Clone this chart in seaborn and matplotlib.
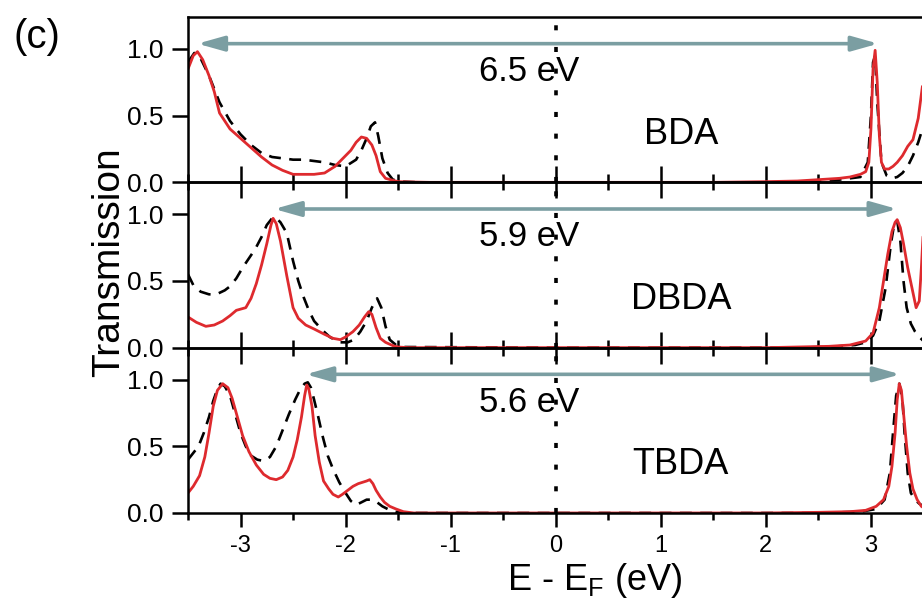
import numpy as np
import pandas as pd
import matplotlib
matplotlib.use("Agg")
import matplotlib.pyplot as plt
from matplotlib.ticker import MultipleLocator, FormatStrFormatter
import seaborn as sns

# ---------------- data ----------------
panel_names = ["BDA", "DBDA", "TBDA"]
gap_labels = ["6.5 eV", "5.9 eV", "5.6 eV"]
gap_left = [-3.41, -2.68, -2.38]
gap_right = [3.07, 3.25, 3.28]

bda_red_E = [-3.5, -3.45, -3.41, -3.36, -3.3, -3.25, -3.2, -3.1, -3.0, -2.9, -2.8, -2.7, -2.6, -2.5,
             -2.4, -2.3, -2.2, -2.1, -2.0, -1.95, -1.9, -1.85, -1.8, -1.75, -1.71, -1.67, -1.62, -1.55,
             -1.5, -1.4, -1.2, -1.0, 0.0, 1.0, 1.5, 2.0, 2.3, 2.5, 2.7, 2.8, 2.9, 2.95, 2.98, 3.0, 3.02,
             3.04, 3.06, 3.08, 3.1, 3.13, 3.17, 3.21, 3.25, 3.3, 3.35, 3.4, 3.45, 3.49]
bda_red_T = [0.85, 0.95, 0.98, 0.92, 0.80, 0.68, 0.52, 0.40, 0.33, 0.26, 0.19, 0.13, 0.09, 0.06,
             0.06, 0.06, 0.07, 0.12, 0.20, 0.24, 0.30, 0.34, 0.33, 0.28, 0.20, 0.08, 0.03, 0.015,
             0.005, 0.003, 0.0, 0.0, 0.0, 0.0, 0.0, 0.005, 0.01, 0.02, 0.03, 0.04, 0.06, 0.08, 0.15, 0.40, 0.85,
             0.99, 0.75, 0.35, 0.15, 0.10, 0.10, 0.12, 0.15, 0.20, 0.27, 0.32, 0.48, 0.72]
bda_blk_E = [-3.5, -3.44, -3.38, -3.3, -3.2, -3.1, -3.0, -2.9, -2.8, -2.7, -2.6, -2.5, -2.4, -2.3,
             -2.2, -2.1, -2.0, -1.9, -1.85, -1.8, -1.76, -1.72, -1.69, -1.65, -1.6, -1.55, -1.45, -1.3,
             0.0, 2.0, 2.4, 2.7, 2.9, 2.97, 3.0, 3.02, 3.04, 3.06, 3.1, 3.15, 3.2, 3.25, 3.3, 3.35, 3.4,
             3.45, 3.49]
bda_blk_T = [0.90, 0.97, 0.93, 0.80, 0.60, 0.46, 0.36, 0.28, 0.22, 0.19, 0.18, 0.17, 0.17, 0.16,
             0.15, 0.13, 0.12, 0.17, 0.24, 0.33, 0.42, 0.45, 0.35, 0.18, 0.07, 0.02, 0.005, 0.0,
             0.0, 0.0, 0.005, 0.02, 0.04, 0.15, 0.50, 0.90, 0.95, 0.60, 0.15, 0.05, 0.03, 0.04, 0.07, 0.12, 0.20,
             0.30, 0.40]

dbda_red_E = [-3.5, -3.42, -3.33, -3.25, -3.17, -3.1, -3.04, -2.95, -2.9, -2.85, -2.8, -2.75, -2.71,
              -2.69, -2.66, -2.62, -2.56, -2.5, -2.45, -2.38, -2.3, -2.2, -2.12, -2.05, -2.0, -1.93,
              -1.87, -1.82, -1.78, -1.75, -1.71, -1.67, -1.62, -1.55, -1.5, -1.4, 0.0, 2.0, 2.3, 2.6,
              2.8, 2.95, 3.02, 3.08, 3.12, 3.16, 3.2, 3.23, 3.25, 3.28, 3.31, 3.35, 3.39, 3.43, 3.46,
              3.48, 3.5]
dbda_red_T = [0.23, 0.19, 0.16, 0.17, 0.20, 0.24, 0.28, 0.30, 0.37, 0.48, 0.62, 0.78, 0.92,
              0.97, 0.93, 0.80, 0.54, 0.30, 0.22, 0.17, 0.14, 0.10, 0.07, 0.06, 0.08, 0.12,
              0.17, 0.23, 0.27, 0.25, 0.15, 0.07, 0.04, 0.015, 0.005, 0.0, 0.0, 0.0, 0.005, 0.01,
              0.02, 0.05, 0.11, 0.30, 0.50, 0.70, 0.87, 0.94, 0.96, 0.90, 0.78, 0.60, 0.45, 0.30, 0.35,
              0.60, 0.90]
dbda_blk_E = [-3.5, -3.45, -3.38, -3.3, -3.23, -3.15, -3.1, -3.04, -2.98, -2.92, -2.86, -2.8, -2.75,
              -2.7, -2.67, -2.62, -2.56, -2.5, -2.45, -2.4, -2.35, -2.3, -2.22, -2.15, -2.06, -1.98,
              -1.92, -1.86, -1.8, -1.75, -1.7, -1.66, -1.62, -1.58, -1.52, -1.45, 0.0, 2.2, 2.6, 2.85,
              2.95, 3.02, 3.08, 3.14, 3.19, 3.22, 3.25, 3.28, 3.31, 3.34, 3.38, 3.42, 3.46, 3.5]
dbda_blk_T = [0.55, 0.47, 0.42, 0.40, 0.40, 0.43, 0.46, 0.52, 0.60, 0.67, 0.74, 0.83, 0.92,
              0.97, 0.98, 0.94, 0.86, 0.65, 0.50, 0.38, 0.28, 0.20, 0.13, 0.08, 0.04, 0.04,
              0.06, 0.12, 0.20, 0.30, 0.37, 0.30, 0.16, 0.06, 0.02, 0.005, 0.0, 0.0, 0.005, 0.02,
              0.04, 0.09, 0.20, 0.45, 0.78, 0.92, 0.95, 0.80, 0.50, 0.30, 0.18, 0.12, 0.08, 0.05]

tbda_red_E = [-3.5, -3.45, -3.39, -3.34, -3.3, -3.26, -3.22, -3.17, -3.12, -3.08, -3.03, -2.98,
              -2.92, -2.85, -2.78, -2.72, -2.66, -2.6, -2.55, -2.5, -2.46, -2.42, -2.39, -2.37,
              -2.35, -2.32, -2.29, -2.25, -2.21, -2.16, -2.12, -2.07, -2.03, -1.98, -1.93, -1.88,
              -1.84, -1.8, -1.77, -1.74, -1.71, -1.67, -1.63, -1.58, -1.52, -1.45, -1.35, 0.0, 2.0,
              2.5, 2.8, 2.95, 3.05, 3.12, 3.17, 3.2, 3.23, 3.25, 3.27, 3.29, 3.31, 3.34, 3.37, 3.4,
              3.44, 3.48, 3.5]
tbda_red_T = [0.15, 0.20, 0.28, 0.42, 0.60, 0.80, 0.92, 0.97, 0.94, 0.86, 0.72, 0.58,
              0.46, 0.36, 0.29, 0.26, 0.25, 0.27, 0.32, 0.42, 0.55, 0.72, 0.88, 0.96,
              0.93, 0.80, 0.58, 0.38, 0.24, 0.18, 0.14, 0.12, 0.14, 0.17, 0.20, 0.22,
              0.23, 0.24, 0.25, 0.22, 0.17, 0.12, 0.08, 0.05, 0.03, 0.01, 0.0, 0.0, 0.0,
              0.005, 0.01, 0.02, 0.05, 0.10, 0.20, 0.35, 0.60, 0.85, 0.97, 0.92, 0.75, 0.50, 0.30, 0.18,
              0.10, 0.05, 0.04]
tbda_blk_E = [-3.5, -3.45, -3.4, -3.35, -3.3, -3.26, -3.22, -3.19, -3.15, -3.1, -3.05, -3.0, -2.95,
              -2.9, -2.84, -2.78, -2.72, -2.66, -2.6, -2.54, -2.48, -2.43, -2.39, -2.36, -2.33, -2.3,
              -2.26, -2.22, -2.17, -2.12, -2.06, -2.0, -1.95, -1.9, -1.85, -1.8, -1.75, -1.7, -1.65,
              -1.6, -1.55, -1.5, -1.4, 0.0, 2.5, 2.9, 3.05, 3.13, 3.18, 3.21, 3.24, 3.27, 3.3, 3.32,
              3.35, 3.38, 3.42, 3.46, 3.5]
tbda_blk_T = [0.40, 0.45, 0.50, 0.60, 0.72, 0.84, 0.93, 0.97, 0.95, 0.88, 0.74, 0.60, 0.50,
              0.43, 0.40, 0.39, 0.42, 0.50, 0.62, 0.74, 0.85, 0.93, 0.97, 0.98, 0.94, 0.85,
              0.72, 0.58, 0.43, 0.33, 0.23, 0.15, 0.09, 0.06, 0.08, 0.10, 0.10, 0.08, 0.05,
              0.03, 0.015, 0.005, 0.0, 0.0, 0.0, 0.01, 0.03, 0.10, 0.30, 0.60, 0.88, 0.97, 0.85, 0.60,
              0.30, 0.15, 0.10, 0.07, 0.05]

red_curves = [(bda_red_E, bda_red_T), (dbda_red_E, dbda_red_T), (tbda_red_E, tbda_red_T)]
blk_curves = [(bda_blk_E, bda_blk_T), (dbda_blk_E, dbda_blk_T), (tbda_blk_E, tbda_blk_T)]

xticks = [-3, -2, -1, 0, 1, 2, 3]
yticks = [0.0, 0.5, 1.0]

# ---------------- style ----------------
sns.set_style("ticks")
plt.rcParams["font.family"] = ["Liberation Sans", "DejaVu Sans"]
plt.rcParams["mathtext.fontset"] = "custom"
plt.rcParams["mathtext.rm"] = "Liberation Sans"
plt.rcParams["axes.unicode_minus"] = False
plt.rcParams["text.color"] = "black"
plt.rcParams["axes.labelcolor"] = "black"
plt.rcParams["xtick.color"] = "black"
plt.rcParams["ytick.color"] = "black"

RED = "#de2a2e"
ARROW = "#7b9ea2"

fig = plt.figure(figsize=(9.22, 6), dpi=100)
fig.patch.set_facecolor("white")

left = 188 / 922
width = 1.0 - left
top_px, bot_px = 17, 513
ph = (bot_px - top_px) / 3
axes = []
for i in range(3):
    bottom = 1 - (top_px + ph * (i + 1)) / 600
    ax = fig.add_axes([left, bottom, width, ph / 600])
    axes.append(ax)

for i, ax in enumerate(axes):
    ax.set_facecolor("none")
    bx, by = blk_curves[i]
    rx, ry = red_curves[i]
    sns.lineplot(x=bx, y=by, ax=ax, color="black", linewidth=1.9,
                 linestyle=(0, (4.5, 3.2)), estimator=None, sort=False)
    sns.lineplot(x=rx, y=ry, ax=ax, color=RED, linewidth=2.0,
                 estimator=None, sort=False)
    ax.axvline(0, color="black", linewidth=2.6, linestyle=(0, (1.4, 4.6)), zorder=3)

    ax.set_xlim(-3.5, 3.486)
    ax.set_ylim(0, 1.24)
    ax.set_xticks(xticks)
    ax.xaxis.set_minor_locator(MultipleLocator(0.5))
    ax.set_yticks(yticks)
    ax.yaxis.set_major_formatter(FormatStrFormatter("%.1f"))
    ax.set_xlabel("")
    ax.set_ylabel("")

    for s in ["left", "top", "bottom"]:
        ax.spines[s].set_linewidth(1.8)
        ax.spines[s].set_color("black")
    ax.spines["right"].set_visible(False)

    ax.tick_params(axis="y", which="major", direction="out", length=11.5, width=1.8,
                   labelsize=19, pad=6, labelcolor="black", right=False)
    if i < 2:
        ax.tick_params(axis="x", which="major", direction="inout", length=23, width=1.8,
                       labelbottom=False, top=False)
        ax.tick_params(axis="x", which="minor", direction="inout", length=12, width=1.8,
                       top=False)
    else:
        ax.tick_params(axis="x", which="major", direction="out", length=10, width=1.8,
                       labelsize=17, pad=6, labelcolor="black", top=False)
        ax.tick_params(axis="x", which="minor", direction="out", length=5, width=1.8,
                       top=False)

    ax.annotate("", xy=(gap_left[i], 1.04), xytext=(gap_right[i], 1.04),
                arrowprops=dict(arrowstyle="<|-|>,head_length=1.6,head_width=0.45",
                                mutation_scale=10, color=ARROW, lw=2.6,
                                shrinkA=0, shrinkB=0), zorder=4)
    ax.text(-0.25, 0.83, gap_labels[i], fontsize=25, ha="center", va="center",
            color="black", zorder=5)
    ax.text(1.19, 0.36, panel_names[i], fontsize=26, ha="center", va="center",
            color="black", zorder=5)

axes[2].set_xlabel(r"E - E$_\mathregular{F}$ (eV)", fontsize=26, color="black")
axes[2].xaxis.set_label_coords((595 - 188) / 734, (513 - 561) / ph)

fig.text(109 / 922, 1 - 262 / 600, "Transmission", rotation=90, fontsize=28,
         ha="center", va="center", color="black")
fig.text(37 / 922, 1 - 37 / 600, "(c)", fontsize=29, ha="center", va="center",
         color="black")

fig.savefig("out.png", dpi=100, facecolor="white")
